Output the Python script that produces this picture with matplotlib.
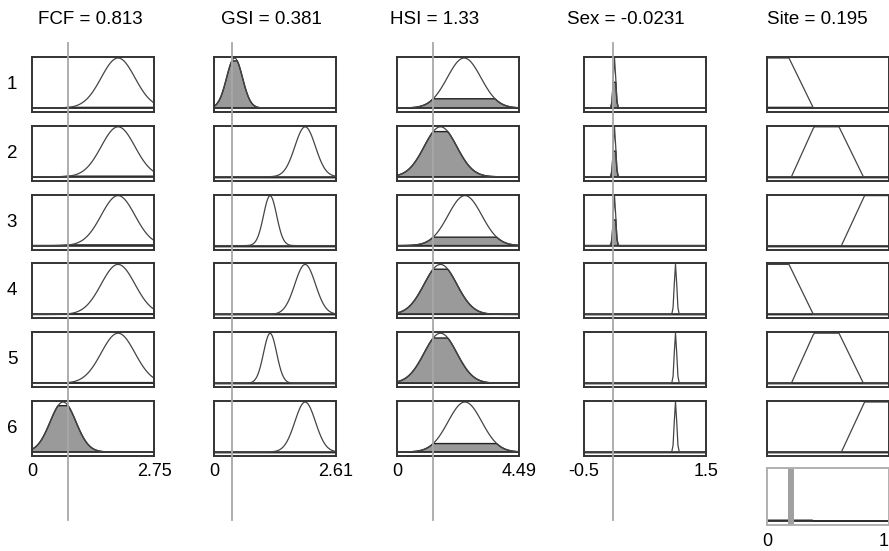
import numpy as np
import matplotlib.pyplot as plt
import matplotlib.transforms as mtransforms
from matplotlib.lines import Line2D

plt.rcParams['font.family'] = ['Liberation Sans', 'DejaVu Sans']

# input variables of the fuzzy system
in_names = ['FCF', 'GSI', 'HSI', 'Sex']
in_values = [0.813, 0.381, 1.33, -0.0231]
in_ranges = [(0, 2.75), (0, 2.61), (0, 4.49), (-0.5, 1.5)]
in_labels = [('0', '2.75'), ('0', '2.61'), ('0', '4.49'), ('-0.5', '1.5')]

# gaussian membership functions (center, sigma), one per rule
fcf_mfs = [(1.94, 0.38), (1.94, 0.38), (1.94, 0.38), (1.94, 0.38), (1.94, 0.38), (0.70, 0.29)]
gsi_mfs = [(0.44, 0.17), (1.95, 0.22), (1.20, 0.14), (1.95, 0.22), (1.20, 0.14), (1.95, 0.22)]
hsi_mfs = [(2.47, 0.62), (1.60, 0.60), (2.50, 0.62), (1.60, 0.60), (1.60, 0.60), (2.50, 0.62)]
sex_mfs = [(0.0, 0.02), (0.0, 0.02), (0.0, 0.02), (1.0, 0.02), (1.0, 0.02), (1.0, 0.02)]

# output variable, trapezoid membership functions
site_name = 'Site'
site_value = 0.195
site_range = (0, 1)
site_mfs = [(-0.4, 0.0, 0.18, 0.38), (0.2, 0.385, 0.59, 0.79), (0.61, 0.8, 1.0, 1.4),
            (-0.4, 0.0, 0.18, 0.38), (0.2, 0.385, 0.59, 0.79), (0.61, 0.8, 1.0, 1.4)]

rules = ['1', '2', '3', '4', '5', '6']


def gauss(x, c, s):
    return np.exp(-(x - c) ** 2 / (2 * s ** 2))


def trap(x, a, b, c, d):
    return np.clip(np.minimum((x - a) / (b - a), (d - x) / (d - c)), 0, 1)


W, H = 889, 551
fig = plt.figure(figsize=(W / 100, H / 100), dpi=100)

col_left = [32, 214, 397, 584, 767]
box_w = 122
box_h = 55
row_top = [57 + 68.8 * i for i in range(6)]
edge = '#333333'
fill_gray = '#9a9a9a'


def make_ax(left, top, w, h):
    ax = fig.add_axes([left / W, 1 - (top + h) / H, w / W, h / H])
    ax.set_xticks([])
    ax.set_yticks([])
    for sp in ax.spines.values():
        sp.set_color(edge)
        sp.set_linewidth(1.4)
    ax.set_ylim(-0.08, 1.02)
    return ax


all_mfs = [fcf_mfs, gsi_mfs, hsi_mfs, sex_mfs]
firing = np.ones(len(rules))
top_axes = []

for j in range(4):
    lo, hi = in_ranges[j]
    x = np.linspace(lo, hi, 101)
    for i in range(len(rules)):
        c, s = all_mfs[j][i]
        ax = make_ax(col_left[j], row_top[i], box_w, box_h)
        ax.set_xlim(lo, hi)
        y = gauss(x, c, s)
        mu = gauss(in_values[j], c, s)
        firing[i] = min(firing[i], mu)
        ax.axhline(0, color=edge, lw=1.1)
        yf = np.minimum(y, mu)
        ax.fill(np.r_[x, x[::-1]], np.r_[yf, np.zeros_like(yf)], facecolor=fill_gray,
                edgecolor='#222222', lw=1.0)
        ax.plot(x, y, color='#444444', lw=0.9)
        if i == 0:
            top_axes.append(ax)
        if i == len(rules) - 1:
            tr = mtransforms.blended_transform_factory(ax.transData, fig.transFigure)
            ax.text(lo, 1 - 472 / H, in_labels[j][0], ha='center', va='center', fontsize=13, transform=tr)
            ax.text(hi, 1 - 472 / H, in_labels[j][1], ha='center', va='center', fontsize=13, transform=tr)

# output column
xs = np.linspace(site_range[0], site_range[1], 101)
agg = np.zeros_like(xs)
for i in range(len(rules)):
    ax = make_ax(col_left[4], row_top[i], box_w, box_h)
    ax.set_xlim(*site_range)
    y = trap(xs, *site_mfs[i])
    yf = np.minimum(y, firing[i])
    agg = np.maximum(agg, yf)
    ax.axhline(0, color=edge, lw=1.1)
    ax.fill(np.r_[xs, xs[::-1]], np.r_[yf, np.zeros_like(yf)], facecolor=fill_gray,
            edgecolor='#222222', lw=1.0)
    ax.plot(xs, y, color='#444444', lw=0.9)

# aggregated output box
axo = make_ax(col_left[4], 468, box_w, 57)
axo.set_xlim(*site_range)
for sp in axo.spines.values():
    sp.set_color('#b0b0b0')
axo.axhline(0, color=edge, lw=1.2)
axo.fill(np.r_[xs, xs[::-1]], np.r_[agg, np.zeros_like(agg)], facecolor=fill_gray, edgecolor='#222222', lw=1.0)
axo.axvline(site_value, color='#a0a0a0', lw=4.3)
tr = mtransforms.blended_transform_factory(axo.transData, fig.transFigure)
axo.text(site_range[0], 1 - 542 / H, '0', ha='center', va='center', fontsize=13, transform=tr)
axo.text(site_range[1], 1 - 542 / H, '1', ha='right', va='center', fontsize=13, transform=tr)

# vertical lines at the input values
for j in range(4):
    tr = mtransforms.blended_transform_factory(top_axes[j].transData, fig.transFigure)
    fig.lines.append(Line2D([in_values[j], in_values[j]], [1 - 43 / H, 1 - 520 / H],
                            transform=tr, color='#a8a8a8', lw=1.3, zorder=5))

# titles
title_x = [90, 271, 435, 626, 817]
titles = ['%s = %g' % (n, v) for n, v in zip(in_names, in_values)] + ['%s = %g' % (site_name, site_value)]
for tx, t in zip(title_x, titles):
    fig.text(tx / W, 1 - 19 / H, t, ha='center', va='center', fontsize=13.5)

# rule numbers
for i, r in enumerate(rules):
    fig.text(12 / W, 1 - (row_top[i] + box_h / 2) / H, r, ha='center', va='center', fontsize=13.5)

fig.savefig('out.png', dpi=100)
